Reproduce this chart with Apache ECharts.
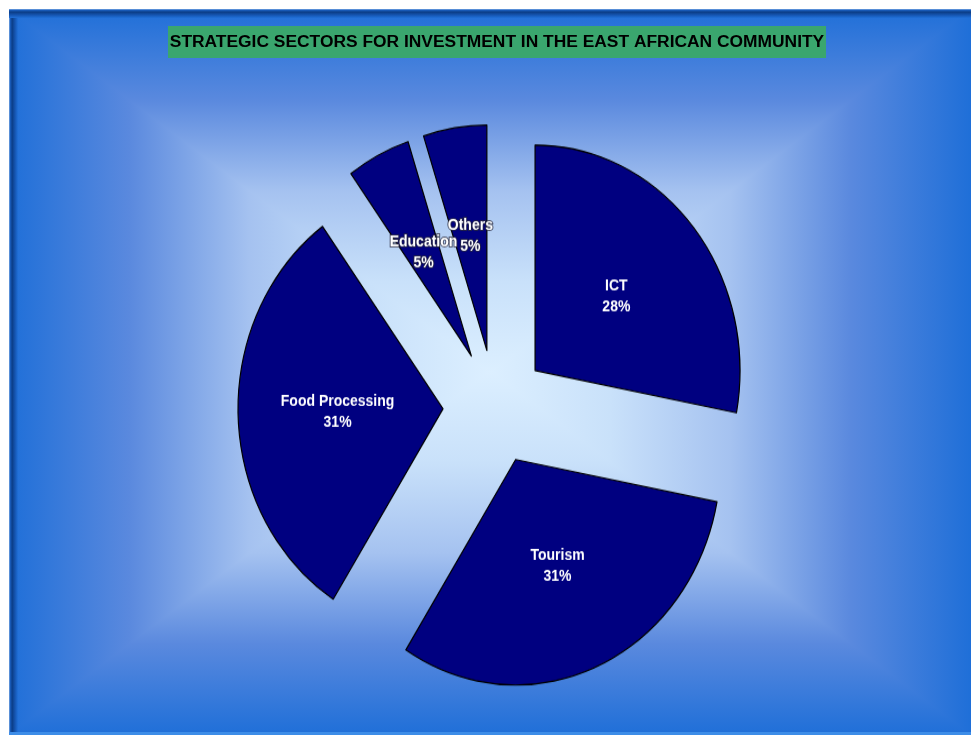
<!DOCTYPE html>
<html>
<head>
<meta charset="utf-8">
<script src="https://cdn.jsdelivr.net/npm/echarts@6/dist/echarts.min.js"></script>
<style>
html,body{margin:0;padding:0;background:#fff;}
#wrap{position:relative;width:971px;height:735px;overflow:hidden;}
#bg,#pie{position:absolute;left:0;top:0;width:971px;height:735px;}
#pie{transform-origin:495px 407px;transform:scaleY(1.1);}
</style>
</head>
<body>
<div id="wrap"><div id="bg"></div><div id="pie"></div></div>
<script>
const titleText = 'STRATEGIC SECTORS FOR INVESTMENT IN THE EAST AFRICAN COMMUNITY';
const categories = ['ICT', 'Tourism', 'Food Processing', 'Education', 'Others'];
const values = [28, 31, 31, 5, 5];

const FONT = '"Liberation Sans", Arial, sans-serif';
const L = 9, T = 9, R = 971, B = 735;
const CX = (L + R) / 2, CY = (T + B) / 2;
const stops = [
  { offset: 0, color: '#1f6fd8' },
  { offset: 0.25, color: '#5a89de' },
  { offset: 0.5, color: '#a5c2f0' },
  { offset: 0.75, color: '#c9e1fa' },
  { offset: 1, color: '#dcefff' }
];
function lg(x, y, x2, y2) { return { type: 'linear', x: x, y: y, x2: x2, y2: y2, colorStops: stops }; }
const frameStops = [
  { offset: 0, color: '#8fb8ea' }, { offset: 0.12, color: '#1a5fc0' }, { offset: 0.35, color: '#0b3d86' },
  { offset: 0.7, color: '#1657b4' }, { offset: 1, color: '#2070d8' }];

const bg = echarts.init(document.getElementById('bg'), null, { renderer: 'canvas' });
bg.setOption({
  animation: false,
  backgroundColor: '#ffffff',
  graphic: [
    { type: 'rect', shape: { x: L, y: T, width: R - L, height: CY - T + 1 }, style: { fill: lg(0, 0, 0, 1) } },
    { type: 'rect', shape: { x: L, y: CY - 1, width: R - L, height: B - CY + 1 }, style: { fill: lg(0, 1, 0, 0) } },
    { type: 'polygon', shape: { points: [[L, T], [L, B], [CX, CY]] }, style: { fill: lg(0, 0, 1, 0) } },
    { type: 'polygon', shape: { points: [[R, T], [R, B], [CX, CY]] }, style: { fill: lg(1, 0, 0, 0) } },
    { type: 'rect', shape: { x: L, y: T, width: 9, height: B - T },
      style: { fill: { type: 'linear', x: 0, y: 0, x2: 1, y2: 0, colorStops: frameStops } } },
    { type: 'rect', shape: { x: L, y: T, width: R - L, height: 9 },
      style: { fill: { type: 'linear', x: 0, y: 0, x2: 0, y2: 1, colorStops: frameStops } } },
    { type: 'rect', shape: { x: L, y: 732, width: R - L, height: 3 }, style: { fill: '#3d8de8' } },
    { type: 'rect', shape: { x: 168, y: 26, width: 658, height: 32 }, style: { fill: '#3aa66e' } },
    { type: 'text', x: 497, y: 42,
      style: { text: titleText, font: 'bold 17.4px ' + FONT, fill: '#000000', align: 'center', verticalAlign: 'middle' } }
  ]
});

const pie = echarts.init(document.getElementById('pie'), null, { renderer: 'canvas' });
const pieData = categories.map((c, i) => {
  const small = i >= 3;
  return {
    name: c, value: values[i], selected: true,
    label: small ? { textBorderColor: 'rgba(40,40,60,0.75)', textBorderWidth: 2 } : {}
  };
});
pie.setOption({
  animation: false,
  backgroundColor: 'transparent',
  series: [{
    type: 'pie',
    center: [495, 407],
    radius: [0, 205],
    startAngle: 90,
    clockwise: true,
    selectedMode: 'multiple',
    selectedOffset: 52,
    avoidLabelOverlap: false,
    labelLayout: { hideOverlap: false },
    itemStyle: { color: '#000080', borderColor: '#000000', borderWidth: 1.2 },
    select: { itemStyle: { color: '#000080', borderColor: '#000000', borderWidth: 1.2 } },
    emphasis: { disabled: true },
    label: {
      show: true, position: 'inside', color: '#ffffff', fontFamily: FONT, fontWeight: 'bold',
      fontSize: 14, lineHeight: 19,
      formatter: p => p.name + '\n' + Math.round(p.percent) + '%'
    },
    labelLine: { show: false },
    data: pieData
  }]
});
</script>
</body>
</html>
